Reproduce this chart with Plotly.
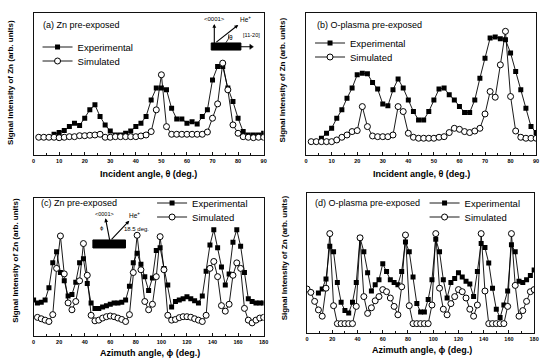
import plotly.graph_objects as go

# ---------------- data (arbitrary units, 0-10 = full frame height) ----------------
theta_exp_a = list(range(8, 91, 2))
exp_a = [1.46, 1.58, 1.72, 2.0, 2.24, 2.07, 2.59, 3.18, 3.53, 2.71, 2.12, 1.69, 1.41, 1.41,
         1.53, 1.69, 2.0, 2.24, 2.71, 3.88, 4.71, 4.71, 4.59, 3.29, 2.54, 2.54, 2.24, 2.35,
         2.19, 2.71, 3.18, 5.29, 6.24, 6.24, 4.71, 3.76, 2.59, 1.65, 1.41, 1.41, 1.41, 1.53]
theta_sim_a = list(range(2, 91, 2))
sim_a = [1.25, 1.25, 1.25, 1.25, 1.22, 1.25, 1.29, 1.29, 1.36, 1.36, 1.39, 1.41, 1.46, 1.25,
         1.25, 1.29, 1.29, 1.29, 1.29, 1.29, 1.34, 1.41, 1.65, 3.18, 5.65, 2.0, 1.46, 1.46,
         1.46, 1.46, 1.46, 1.46, 1.46, 1.62, 2.59, 3.6, 6.47, 4.59, 2.12, 1.53, 1.29, 1.25,
         1.22, 1.25, 1.25]

theta_exp_b = list(range(6, 91, 2))
exp_b = [1.18, 1.53, 1.88, 2.59, 3.18, 4.0, 4.71, 5.65, 5.76, 5.72, 5.11, 4.64, 3.6, 3.46,
         4.59, 5.36, 4.71, 3.88, 3.06, 2.47, 2.47, 3.06, 3.88, 4.64, 4.71, 4.24, 3.88, 3.41,
         2.99, 2.99, 3.88, 5.41, 6.82, 8.24, 8.31, 8.19, 8.12, 7.18, 5.88, 4.59, 3.29, 2.0, 1.58]
theta_sim_b = list(range(2, 91, 2))
sim_b = [0.94, 0.94, 0.94, 0.94, 0.94, 1.06, 1.25, 1.41, 1.65, 1.72, 3.41, 2.0, 1.34, 1.29,
         1.29, 1.29, 1.41, 3.41, 3.06, 1.53, 1.25, 1.18, 1.18, 1.18, 1.18, 1.25, 1.29, 1.58,
         1.88, 1.81, 1.65, 1.58, 1.69, 1.88, 2.89, 4.47, 4.07, 6.35, 8.71, 4.12, 1.69, 1.25,
         1.18, 1.18, 1.18]

phi_exp_c = list(range(0, 181, 3))
exp_c = [2.6, 2.4, 2.45, 2.6, 3.5, 5.3, 6.1, 4.6, 4.0, 2.9,
         3.0, 3.9, 5.3, 5.6, 3.8, 2.4, 2.0, 2.0, 2.1, 2.2,
         2.3, 2.4, 2.4, 2.45, 2.6, 3.6, 5.3, 6.0, 5.2, 4.3,
         3.3, 4.2, 6.2, 6.4, 4.9, 3.7, 2.1, 2.5, 2.6, 2.7,
         2.85, 2.7, 2.55, 2.4, 2.9, 4.7, 6.6, 7.7, 6.4, 5.0,
         3.7, 4.5, 6.8, 7.7, 6.5, 4.6, 2.7, 2.5, 2.4, 2.4, 2.4]
phi_sim_c = list(range(3, 181, 3))
sim_c = [1.35, 1.25, 1.15, 1.05, 1.55, 4.9, 7.25, 4.5, 2.4, 1.9,
         2.5, 4.0, 6.7, 4.4, 1.5, 1.1, 1.15, 1.3, 1.4, 1.45,
         1.4, 1.3, 1.2, 1.05, 1.55, 4.6, 7.3, 4.8, 2.5, 1.9,
         2.3, 4.3, 7.2, 4.8, 1.5, 1.15, 1.2, 1.33, 1.4, 1.4,
         1.36, 1.25, 1.15, 1.05, 1.5, 4.9, 5.4, 4.3, 2.2, 1.8,
         2.3, 4.4, 5.3, 4.9, 2.0, 1.15, 0.95, 1.15, 1.3, 1.35]

phi_exp_d = list(range(9, 181, 3))
exp_d = [2.86, 3.15, 3.85, 6.2, 5.8, 3.6, 2.2, 1.6, 1.43, 2.2,
         3.6, 6.8, 5.8, 4.3, 3.0, 3.45, 3.8, 4.95, 4.4, 3.8,
         3.6, 3.45, 4.4, 6.5, 5.8, 4.0, 2.1, 1.5, 1.5, 2.4,
         3.8, 6.7, 5.8, 3.8, 2.5, 3.6, 3.9, 4.3, 4.0, 3.7,
         3.5, 2.6, 4.4, 6.4, 6.1, 5.0, 3.2, 1.7, 1.1, 2.0,
         3.0, 6.3, 5.8, 3.7, 3.6, 3.8, 4.1, 4.5]
phi_sim_d = list(range(0, 181, 3))
sim_d = [3.14, 2.9, 2.26, 1.65, 1.2, 3.2, 7.1, 1.95, 0.67, 0.67,
         0.67, 0.67, 0.67, 1.9, 6.8, 2.6, 1.4, 1.8, 2.3, 2.6,
         3.1, 2.95, 2.5, 1.9, 1.3, 3.3, 7.0, 1.95, 0.67, 0.67,
         0.67, 0.67, 0.67, 2.0, 7.1, 3.2, 1.7, 1.3, 2.1, 2.6,
         3.1, 2.95, 2.5, 1.7, 1.2, 2.0, 7.1, 3.0, 0.67, 0.67,
         0.67, 0.67, 0.67, 1.9, 7.1, 3.4, 1.2, 1.6, 2.26, 2.95, 3.1]

panel_titles = ["(a) Zn pre-exposed", "(b) O-plasma pre-exposed",
                "(c) Zn pre-exposed", "(d) O-plasma pre-exposed"]
series_names = ["Experimental", "Simulated"]
xtitle_inc = "Incident angle, θ (deg.)"
xtitle_az = "Azimuth angle, ϕ (deg.)"
ytitle = "Signal Intensity of Zn (arb. units)"

# ---------------- figure ----------------
W, H = 551, 359
FONT = "Arial, Liberation Sans, sans-serif"

def px(x):
    return x / W

def py(y):
    return 1 - y / H

fig = go.Figure()

# each series gets its own one-row legend so the row spacing can match the original
panels = [
    (theta_exp_a, exp_a, theta_sim_a, sim_a, "x", "y", "legend", "legend5"),
    (theta_exp_b, exp_b, theta_sim_b, sim_b, "x2", "y2", "legend2", "legend6"),
    (phi_exp_c, exp_c, phi_sim_c, sim_c, "x3", "y3", "legend3", "legend7"),
    (phi_exp_d, exp_d, phi_sim_d, sim_d, "x4", "y4", "legend4", "legend8"),
]
for ex, ey, sx, sy, xa, ya, lg1, lg2 in panels:
    fig.add_trace(go.Scatter(x=ex, y=ey, xaxis=xa, yaxis=ya, mode="lines+markers",
                             name=series_names[0], legend=lg1,
                             line=dict(color="black", width=0.9),
                             marker=dict(symbol="square", size=5, color="black")))
    fig.add_trace(go.Scatter(x=sx, y=sy, xaxis=xa, yaxis=ya, mode="lines+markers",
                             name=series_names[1], legend=lg2,
                             line=dict(color="black", width=0.9),
                             marker=dict(symbol="circle", size=6, color="white",
                                         line=dict(color="black", width=1))))

frames = {
    "a": (32, 265, 13, 155),
    "b": (308, 541, 13, 155),
    "c": (32, 265, 198, 336),
    "d": (309, 539, 193, 333),
}

def xax(fr, rng, dtick, minor, anchor):
    l, r, t, b = fr
    return dict(domain=[px(l), px(r)], range=rng, anchor=anchor, showline=True, mirror=True,
                linecolor="#111", linewidth=1, ticks="inside", ticklen=3, tickwidth=1,
                tickcolor="#111", dtick=dtick, tick0=0, showgrid=False, zeroline=False,
                tickfont=dict(family=FONT, size=5.5, color="black", weight="bold"),
                minor=dict(dtick=minor, ticks="inside", ticklen=2, tickcolor="#111"))

def yax(fr, anchor):
    l, r, t, b = fr
    return dict(domain=[py(b), py(t)], range=[0, 10], anchor=anchor, showline=True,
                mirror=True, linecolor="#111", linewidth=1, ticks="", showticklabels=False,
                showgrid=False, zeroline=False)

legend_common = dict(bgcolor="rgba(0,0,0,0)", borderwidth=0, xanchor="left", yanchor="middle",
                     font=dict(family=FONT, size=9.5, color="black"), itemwidth=30)

fig.update_layout(
    width=W, height=H, margin=dict(l=0, r=0, t=0, b=0),
    paper_bgcolor="white", plot_bgcolor="white",
    font=dict(family=FONT, color="black"),
    xaxis=xax(frames["a"], [0, 90], 10, 5, "y"),
    yaxis=yax(frames["a"], "x"),
    xaxis2=xax(frames["b"], [0, 90], 10, 5, "y2"),
    yaxis2=yax(frames["b"], "x2"),
    xaxis3=xax(frames["c"], [0, 180], 20, 10, "y3"),
    yaxis3=yax(frames["c"], "x3"),
    xaxis4=xax(frames["d"], [0, 180], 20, 10, "y4"),
    yaxis4=yax(frames["d"], "x4"),
    legend=dict(x=px(36), y=py(47), **legend_common),
    legend5=dict(x=px(36), y=py(61), **legend_common),
    legend2=dict(x=px(312), y=py(43), **legend_common),
    legend6=dict(x=px(312), y=py(57), **legend_common),
    legend3=dict(x=px(152), y=py(203), **legend_common),
    legend7=dict(x=px(152), y=py(217), **legend_common),
    legend4=dict(x=px(428), y=py(203), **legend_common),
    legend8=dict(x=px(428), y=py(217), **legend_common),
    showlegend=True,
)

ann = []
def text(x, y, s, size, xref="paper", yref="paper", angle=0, xanchor="center", bold=False):
    ann.append(dict(x=x, y=y, xref=xref, yref=yref, text=("<b>%s</b>" % s) if bold else s,
                    showarrow=False, textangle=angle, xanchor=xanchor, yanchor="middle",
                    font=dict(family=FONT, size=size, color="black")))

def label_arrow(x0, y0, lx, ly, s, size, xr, yr):
    # arrow from the sample bar (x0, y0) to a label placed at (lx, ly); head at the label
    ann.append(dict(x=x0, y=y0, ax=lx, ay=ly, xref=xr, yref=yr, axref=xr, ayref=yr,
                    text=s, showarrow=True, arrowside="start", startarrowhead=2,
                    startarrowsize=0.7, arrowwidth=1.1, arrowcolor="black",
                    font=dict(family=FONT, size=size, color="black")))

# axis titles
text(px(148), py(174), xtitle_inc, 9, bold=True)
text(px(425), py(174), xtitle_inc, 9, bold=True)
text(px(150), py(353), xtitle_az, 9, bold=True)
text(px(425), py(350), xtitle_az, 9, bold=True)
text(px(8), py(82), ytitle, 8, angle=-90, bold=True)
text(px(285), py(80), ytitle, 8, angle=-90, bold=True)
text(px(13), py(260), ytitle, 8, angle=-90, bold=True)
text(px(286), py(258), ytitle, 8, angle=-90, bold=True)

# panel labels
text(px(40), py(25), panel_titles[0], 9, xanchor="left")
text(px(317), py(25), panel_titles[1], 9, xanchor="left")
text(px(37), py(203), panel_titles[2], 9, xanchor="left")
text(px(315), py(203), panel_titles[3], 9, xanchor="left")

# inset sketch in (a)
fig.add_shape(type="rect", xref="x", yref="y", x0=69.5, x1=81.1, y0=7.39, y1=7.89,
              fillcolor="black", line=dict(color="black", width=1))
label_arrow(70.7, 7.89, 70.7, 9.55, "&lt;0001&gt;", 6, "x", "y")
label_arrow(71.5, 7.95, 82.8, 9.55, "He<sup>+</sup>", 6.5, "x", "y")
fig.add_shape(type="line", xref="x", yref="y", x0=81.1, x1=85.0, y0=7.62, y1=7.62,
              line=dict(color="black", width=1.1))
fig.add_shape(type="path", xref="x", yref="y",
              path="M 86.0 7.62 L 84.6 7.80 L 84.6 7.44 Z",
              fillcolor="black", line=dict(color="black", width=0.5))
fig.add_shape(type="path", xref="x", yref="y",
              path="M 75.2 7.9 Q 76.6 8.15 76.4 8.5",
              line=dict(color="black", width=0.8))
text(77.4, 8.3, "θ", 6.5, "x", "y")
text(85.2, 8.45, "[11-20]", 5.5, "x", "y")

# inset sketch in (c)
fig.add_shape(type="rect", xref="x3", yref="y3", x0=46.4, x1=71.9, y0=6.38, y1=6.96,
              fillcolor="black", line=dict(color="black", width=1))
label_arrow(59.5, 6.96, 55.6, 8.85, "&lt;0001&gt;", 5.5, "x3", "y3")
label_arrow(61.0, 7.0, 79.0, 8.75, "He<sup>+</sup>", 6.5, "x3", "y3")
text(53.3, 7.85, "ϕ", 6, "x3", "y3")
text(80.5, 7.73, "18.5 deg.", 6, "x3", "y3")

fig.update_layout(annotations=ann)
fig.write_html("out.html")
